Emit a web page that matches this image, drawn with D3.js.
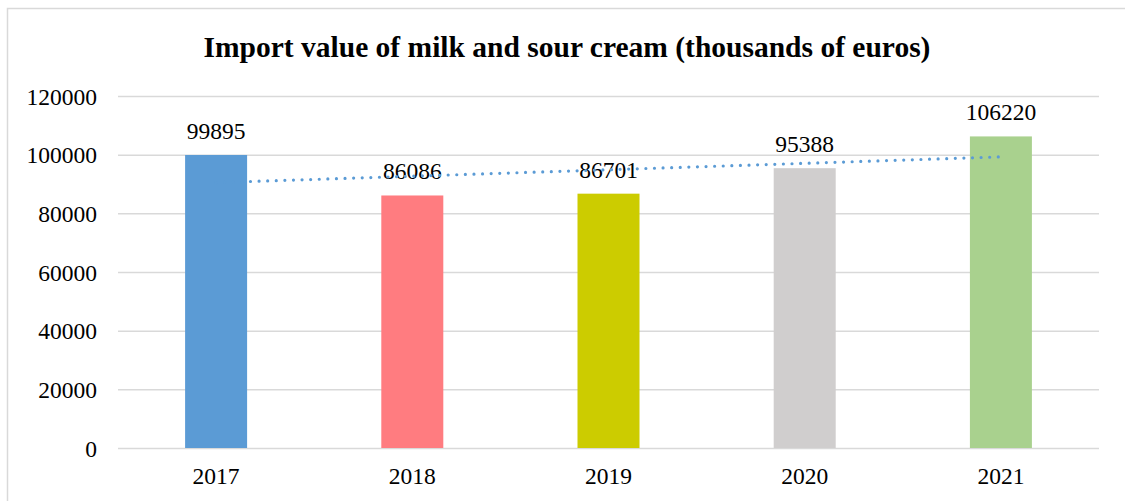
<!DOCTYPE html>
<meta charset="utf-8">
<style>
  body { margin: 0; background: #fff; }
  text { font-family: "Liberation Serif", "Times New Roman", serif; fill: #000; }
</style>
<body>
<script src="https://d3js.org/d3.v7.min.js"></script>
<script>
var years = ["2017", "2018", "2019", "2020", "2021"];
var values = [99895, 86086, 86701, 95388, 106220];
var barColors = ["#5b9bd5", "#ff7c80", "#cccc00", "#d0cece", "#a9d18e"];
var yTicks = [0, 20000, 40000, 60000, 80000, 100000, 120000];
var title = "Import value of milk and sour cream (thousands of euros)";

var width = 1125,
    height = 501;

var svg = d3.select("body").append("svg")
    .attr("width", width)
    .attr("height", height);

// chart frame (only top and left edges fall inside the window)
svg.append("rect")
    .attr("x", 7.5)
    .attr("y", 8.5)
    .attr("width", 1140)
    .attr("height", 520)
    .attr("fill", "none")
    .attr("stroke", "#d9d9d9")
    .attr("stroke-width", 1.5);

svg.append("text")
    .attr("x", 567)
    .attr("y", 57)
    .attr("text-anchor", "middle")
    .style("font-weight", "bold")
    .style("font-size", "29.5px")
    .text(title);

var x = d3.scaleBand()
    .domain(years)
    .range([118, 1099])
    .paddingInner(0.684)
    .paddingOuter(0.342);

var y = d3.scaleLinear()
    .domain([0, 120000])
    .range([448, 96]);

// gridlines
svg.append("g")
    .selectAll("line")
    .data(yTicks)
    .enter()
    .append("line")
    .attr("x1", 118)
    .attr("x2", 1099)
    .attr("y1", function(d) { return y(d) + 0.5; })
    .attr("y2", function(d) { return y(d) + 0.5; })
    .attr("stroke", "#d9d9d9")
    .attr("stroke-width", 1.5);

// y labels
var yAxis = svg.append("g")
    .attr("transform", "translate(97,0)")
    .call(d3.axisLeft(y).tickValues(yTicks).tickSize(0).tickPadding(0).tickFormat(d3.format("d")));
yAxis.select(".domain").remove();
yAxis.selectAll("text")
    .attr("dy", "0.35em")
    .style("font-size", "23.5px")
    .style("font-family", "'Liberation Serif', serif");

// x labels
var xAxis = svg.append("g")
    .attr("transform", "translate(0,448)")
    .call(d3.axisBottom(x).tickSize(0).tickPadding(0));
xAxis.select(".domain").remove();
xAxis.selectAll("text")
    .attr("dy", null)
    .attr("y", 36)
    .style("font-size", "23.5px")
    .style("font-family", "'Liberation Serif', serif");

// bars
svg.append("g")
    .selectAll("rect")
    .data(values)
    .enter()
    .append("rect")
    .attr("x", function(d, i) { return x(years[i]); })
    .attr("width", x.bandwidth())
    .attr("y", function(d) { return y(d); })
    .attr("height", function(d) { return y(0) - y(d); })
    .attr("fill", function(d, i) { return barColors[i]; });

// linear trendline (least squares over category index)
var n = values.length,
    mx = (n + 1) / 2,
    my = d3.mean(values),
    sxy = 0, sxx = 0;
values.forEach(function(v, i) {
    sxy += (i + 1 - mx) * (v - my);
    sxx += (i + 1 - mx) * (i + 1 - mx);
});
var slope = sxy / sxx,
    icpt = my - slope * mx;
var trend = years.map(function(yr, i) {
    return [x(yr) + x.bandwidth() / 2, y(icpt + slope * (i + 1))];
});

// data labels
svg.append("g")
    .selectAll("text")
    .data(values)
    .enter()
    .append("text")
    .attr("x", function(d, i) { return x(years[i]) + x.bandwidth() / 2; })
    .attr("y", function(d) { return y(d) - 16; })
    .attr("text-anchor", "middle")
    .style("font-size", "23.5px")
    .text(function(d) { return d; });

svg.append("path")
    .attr("d", d3.line()(trend))
    .attr("fill", "none")
    .attr("stroke", "#5b9bd5")
    .attr("stroke-width", 3.2)
    .attr("stroke-linecap", "round")
    .attr("stroke-dasharray", "0 8.6");
</script>
</body>
</html>
